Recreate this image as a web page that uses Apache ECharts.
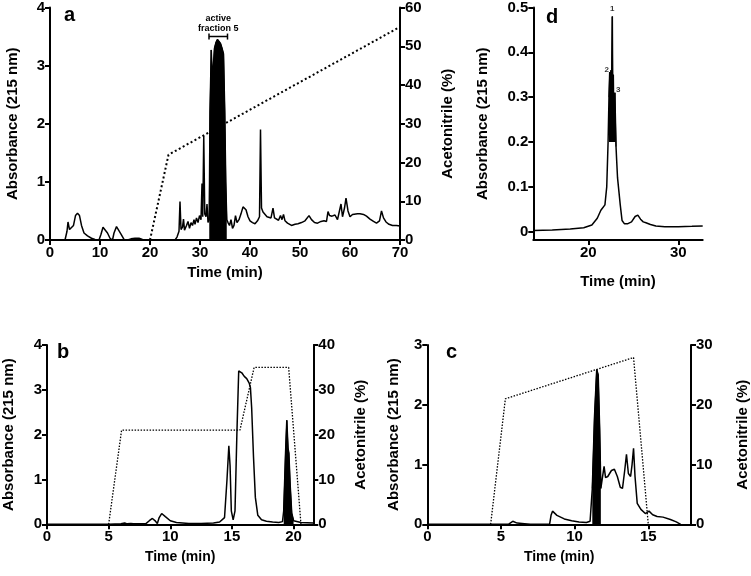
<!DOCTYPE html>
<html><head><meta charset="utf-8">
<script src="https://cdn.jsdelivr.net/npm/echarts@6/dist/echarts.min.js"></script>
<style>html,body{margin:0;padding:0;background:#fff}#c{width:751px;height:576px}</style>
</head><body><div id="c"></div>
<script>
// ---- Panel a ----
const aTime = [0,3.0,3.4,3.6,3.9,4.3,4.7,5.1,5.5,5.9,6.3,6.8,7.5,8.3,9.0,9.8,10.2,10.6,11.0,11.5,12.0,12.5,12.8,13.3,13.7,14.2,14.8,15.5,16.2,17.0,17.8,18.5,19.5,25.0,25.4,25.8,26.0,26.2,26.5,26.7,26.9,27.3,27.6,27.9,28.2,28.5,28.8,29.0,29.3,29.6,29.9,30.2,30.4,30.55,30.75,30.95,31.2,31.4,31.6,31.85,32.0,32.25,32.45,32.6,32.9,33.2,33.5,33.8,34.1,34.4,34.7,34.95,35.15,35.35,35.6,35.9,36.2,36.5,36.8,37.1,37.4,37.8,38.2,38.6,38.9,39.2,39.6,40.0,40.5,41.0,41.5,41.9,42.1,42.3,42.6,43.0,43.4,43.8,44.2,44.6,44.9,45.3,45.7,46.1,46.4,46.7,47.0,47.5,48.3,49.0,49.6,50.3,51.0,51.8,52.3,52.9,53.5,54.2,54.8,55.3,55.6,55.9,56.4,57.0,57.5,57.8,58.2,58.5,58.9,59.2,59.6,60.0,60.5,60.8,61.5,62.0,62.7,63.3,64.0,64.7,65.3,65.9,66.3,66.7,67.2,67.8,68.5,69.3,70.0];
const aAbs = [0,0,0.15,0.31,0.18,0.15,0.25,0.42,0.46,0.42,0.25,0.12,0.07,0.03,0.01,0,0.1,0.22,0.21,0.12,0.03,0,0.12,0.23,0.22,0.1,0.01,0,0.02,0.03,0.03,0.01,0,0,0.05,0.15,0.66,0.18,0.22,0.36,0.17,0.25,0.32,0.2,0.3,0.25,0.35,0.27,0.38,0.3,0.42,0.35,0.97,0.4,1.79,0.45,0.4,0.62,0.3,0.35,2.2,3.27,2.8,2.9,3.3,3.4,3.45,3.42,3.38,3.3,3.2,2.2,1.0,0.35,0.3,0.25,0.35,0.2,0.25,0.42,0.3,0.35,0.45,0.57,0.55,0.52,0.4,0.33,0.3,0.28,0.33,0.4,1.9,0.55,0.48,0.47,0.4,0.37,0.38,0.55,0.38,0.36,0.34,0.42,0.35,0.44,0.33,0.29,0.25,0.27,0.28,0.3,0.33,0.42,0.35,0.3,0.29,0.32,0.33,0.32,0.49,0.42,0.41,0.43,0.35,0.38,0.62,0.4,0.55,0.72,0.5,0.4,0.44,0.47,0.45,0.45,0.44,0.41,0.36,0.32,0.29,0.33,0.5,0.38,0.31,0.27,0.25,0.25,0.24];
const aFillRange = [31.8, 35.5];
const aGradTime = [20, 23.7, 70];
const aGradPct = [0, 22, 55];
const aBracket = [31.8, 35.5];
const aBracketLevel = 3.5;
const aNote = 'active\nfraction 5';

// ---- Panel b ----
const bTime = [0,5.0,6.0,6.3,6.5,6.8,7.0,8.0,8.3,8.55,8.8,8.95,9.1,9.3,9.6,10.0,10.5,11.5,12.5,13.5,14.0,14.4,14.6,14.75,14.85,14.95,15.1,15.25,15.4,15.55,15.8,16.0,16.2,16.4,16.5,16.6,16.75,16.9,17.1,17.4,17.8,18.3,18.8,19.1,19.2,19.35,19.45,19.55,19.62,19.72,19.85,20.0,20.6,21.6];
const bAbs = [0,0,0.01,0.03,0.01,0.02,0.01,0.01,0.08,0.13,0.07,0.02,0.15,0.24,0.17,0.08,0.04,0.02,0.02,0.03,0.05,0.15,1.0,1.75,1.3,0.3,0.1,0.3,2.0,3.42,3.38,3.3,3.25,3.15,3.05,2.6,1.5,0.6,0.2,0.1,0.07,0.05,0.04,0.06,0.3,1.6,2.32,1.7,1.58,0.9,0.25,0.08,0.04,0.03];
const bFillRange = [19.15, 20.0];
const bGradTime = [5, 6.05, 15.65, 16.8, 19.6, 20.6];
const bGradPct = [0, 21, 21, 35, 35, 0];

// ---- Panel c ----
const cTime = [0,5.5,5.8,6.1,6.6,7.0,8.3,8.4,8.5,8.8,9.3,9.8,10.3,10.8,11.05,11.2,11.35,11.5,11.6,11.7,11.78,11.88,12.0,12.1,12.25,12.5,12.7,12.9,13.1,13.25,13.4,13.52,13.65,13.8,13.9,14.0,14.1,14.25,14.5,14.8,15.05,15.3,15.6,16.0,16.5,16.9,17.2];
const cAbs = [0,0,0.05,0.02,0.01,0,0,0.15,0.22,0.15,0.09,0.06,0.04,0.03,0.05,0.6,1.8,2.59,2.5,1.6,0.6,0.62,0.97,0.78,0.8,0.9,0.92,0.8,0.62,0.6,0.9,1.17,0.85,0.8,1.0,1.27,0.8,0.35,0.25,0.18,0.22,0.16,0.13,0.12,0.08,0.04,0.0];
const cFillRange = [11.1, 11.8];
const cGradTime = [4.3, 5.3, 14.0, 15.0];
const cGradPct = [0, 21, 27.9, 0];

// ---- Panel d ----
const dTime = [13.9,16,18,19.5,20.4,21.0,21.4,21.85,22.05,22.2,22.3,22.38,22.45,22.52,22.58,22.67,22.72,22.78,22.85,22.95,23.02,23.08,23.15,23.25,23.4,23.55,23.75,24.0,24.4,24.8,25.2,25.5,25.8,26.1,26.4,26.9,27.5,28.5,30,31.5,32.7];
const dAbs = [0.003,0.004,0.006,0.009,0.015,0.03,0.048,0.06,0.1,0.2,0.3,0.356,0.29,0.36,0.3,0.48,0.28,0.35,0.22,0.31,0.31,0.19,0.16,0.12,0.09,0.06,0.025,0.018,0.018,0.022,0.034,0.037,0.028,0.022,0.02,0.016,0.013,0.011,0.011,0.012,0.013];
const dFillRange = [22.3, 23.08];
const dFillBase = 0.2;
const dPeakLabels = ['1', '2', '3'];
const dPeakLabelPos = [[22.67, 0.497], [22.05, 0.362], [23.33, 0.316]];

// tick labels
const bXTicks = [0,5,10,15,20];
const cXTicks = [0,5,10,15];
const dXTicks = [20,30];
const dYTicks = [0,0.1,0.2,0.3,0.4,0.5];

const zip = (xs, ys) => xs.map((x, i) => [x, ys[i]]);
const within = (pairs, r) => pairs.filter(p => p[0] >= r[0] && p[0] <= r[1]);

const FONT = 'Liberation Sans';
const axisCommon = {
  axisLine: { show: true, onZero: false, lineStyle: { color: '#000', width: 2 } },
  axisTick: { show: true, length: 5, lineStyle: { color: '#000', width: 2 } },
  splitLine: { show: false },
  axisLabel: { color: '#000', fontFamily: FONT, fontWeight: 'bold', fontSize: 15, margin: 5 },
  nameTextStyle: { color: '#000', fontFamily: FONT, fontWeight: 'bold', fontSize: 15 },
  nameLocation: 'middle'
};
function ax(extra) {
  const o = JSON.parse(JSON.stringify(axisCommon));
  for (const k in extra) {
    if (typeof extra[k] === 'object' && !Array.isArray(extra[k]) && o[k]) Object.assign(o[k], extra[k]);
    else o[k] = extra[k];
  }
  return o;
}

const grids = [
  { left: 50, top: 7.3, width: 350, height: 232.7 },
  { left: 533.3, top: 6.7, width: 169.4, height: 233.3 },
  { left: 45, top: 345, width: 268.3, height: 179.3 },
  { left: 427.3, top: 345, width: 267.7, height: 179.3 }
];

const xAxes = [
  ax({ type: 'value', gridIndex: 0, min: 0, max: 70, interval: 10, name: 'Time (min)', nameGap: 25 }),
  ax({ type: 'value', gridIndex: 1, min: 13.9, max: 32.7, name: 'Time (min)', nameGap: 34,
       axisLabel: { customValues: dXTicks }, axisTick: { customValues: dXTicks } }),
  ax({ type: 'value', gridIndex: 2, min: 0, max: 21.6, name: 'Time (min)', nameGap: 26,
       axisLabel: { customValues: bXTicks }, axisTick: { customValues: bXTicks }, nameTextStyle: { fontSize: 14 } }),
  ax({ type: 'value', gridIndex: 3, min: 0, max: 17.9, name: 'Time (min)', nameGap: 26,
       axisLabel: { customValues: cXTicks }, axisTick: { customValues: cXTicks }, nameTextStyle: { fontSize: 14 } })
];

const yAxes = [
  ax({ type: 'value', gridIndex: 0, min: 0, max: 4, interval: 1, name: 'Absorbance (215 nm)', nameGap: 30, nameRotate: 90 }),
  ax({ type: 'value', gridIndex: 0, position: 'right', min: 0, max: 60, interval: 10, name: 'Acetonitrile (%)', nameGap: 40, nameRotate: 90 }),
  ax({ type: 'value', gridIndex: 1, min: -0.0184, max: 0.5, name: 'Absorbance (215 nm)', nameGap: 43, nameRotate: 90,
       axisLabel: { customValues: dYTicks }, axisTick: { customValues: dYTicks } }),
  ax({ type: 'value', gridIndex: 2, min: 0, max: 4, interval: 1, name: 'Absorbance (215 nm)', nameGap: 31, nameRotate: 90 }),
  ax({ type: 'value', gridIndex: 2, position: 'right', min: 0, max: 40, interval: 10, name: 'Acetonitrile (%)', nameGap: 40, nameRotate: 90 }),
  ax({ type: 'value', gridIndex: 3, min: 0, max: 3, interval: 1, name: 'Absorbance (215 nm)', nameGap: 26, nameRotate: 90 }),
  ax({ type: 'value', gridIndex: 3, position: 'right', min: 0, max: 30, interval: 10, name: 'Acetonitrile (%)', nameGap: 44, nameRotate: 90 })
];

function trace(xi, yi, data, w) {
  return { type: 'line', xAxisIndex: xi, yAxisIndex: yi, data, showSymbol: false, symbol: 'none',
           lineStyle: { color: '#000', width: w || 1.5 }, z: 3 };
}
function fill(xi, yi, data, origin) {
  return { type: 'line', xAxisIndex: xi, yAxisIndex: yi, data, showSymbol: false, symbol: 'none',
           lineStyle: { color: '#000', width: 1 }, areaStyle: { color: '#000', opacity: 1, origin: origin === undefined ? 'auto' : origin }, z: 4 };
}
function grad(xi, yi, data, w, dash) {
  return { type: 'line', xAxisIndex: xi, yAxisIndex: yi, data, showSymbol: false, symbol: 'none',
           lineStyle: { color: '#000', width: w, type: dash }, z: 2 };
}

const aPairs = zip(aTime, aAbs), bPairs = zip(bTime, bAbs), cPairs = zip(cTime, cAbs), dPairs = zip(dTime, dAbs);

const series = [
  trace(0, 0, aPairs),
  fill(0, 0, within(aPairs, aFillRange)),
  grad(0, 1, zip(aGradTime, aGradPct), 2, [2, 2.5]),
  { type: 'line', xAxisIndex: 0, yAxisIndex: 0, data: aBracket.map(t => [t, aBracketLevel]),
    symbol: 'rect', symbolSize: [1.5, 6], showSymbol: true, itemStyle: { color: '#000' },
    lineStyle: { color: '#000', width: 1.5 }, z: 5,
    markPoint: { symbol: 'circle', symbolSize: 0, data: [{ coord: [(aBracket[0] + aBracket[1]) / 2, aBracketLevel],
      label: { show: true, formatter: aNote, position: 'top', distance: 3, color: '#000', fontFamily: FONT, fontWeight: 'bold', fontSize: 9, lineHeight: 10 } }] } },
  trace(1, 2, dPairs),
  fill(1, 2, within(dPairs, dFillRange), dFillBase),
  { type: 'scatter', xAxisIndex: 1, yAxisIndex: 2, symbolSize: 0, data: dPeakLabelPos.map((p, i) => ({ value: p, name: dPeakLabels[i] })),
    label: { show: true, position: 'inside', formatter: '{b}', color: '#000', fontFamily: FONT, fontWeight: 'bold', fontSize: 8 }, z: 6 },
  trace(2, 3, bPairs),
  fill(2, 3, within(bPairs, bFillRange)),
  grad(2, 4, zip(bGradTime, bGradPct), 1.3, [1.5, 1.5]),
  trace(3, 5, cPairs),
  fill(3, 5, within(cPairs, cFillRange)),
  grad(3, 6, zip(cGradTime, cGradPct), 1.3, [1.5, 1.5])
];

const labelStyle = { color: '#000', fontFamily: FONT, fontWeight: 'bold', fontSize: 20 };
const option = {
  animation: false,
  backgroundColor: '#fff',
  title: [
    { text: 'a', left: 59, top: 0, textStyle: labelStyle },
    { text: 'd', left: 541, top: 2, textStyle: labelStyle },
    { text: 'b', left: 52, top: 337, textStyle: labelStyle },
    { text: 'c', left: 441, top: 337, textStyle: labelStyle }
  ],
  grid: grids,
  xAxis: xAxes,
  yAxis: yAxes,
  series
};
const chart = echarts.init(document.getElementById('c'), null, { renderer: 'canvas' });
chart.setOption(option);
</script>
</body></html>
